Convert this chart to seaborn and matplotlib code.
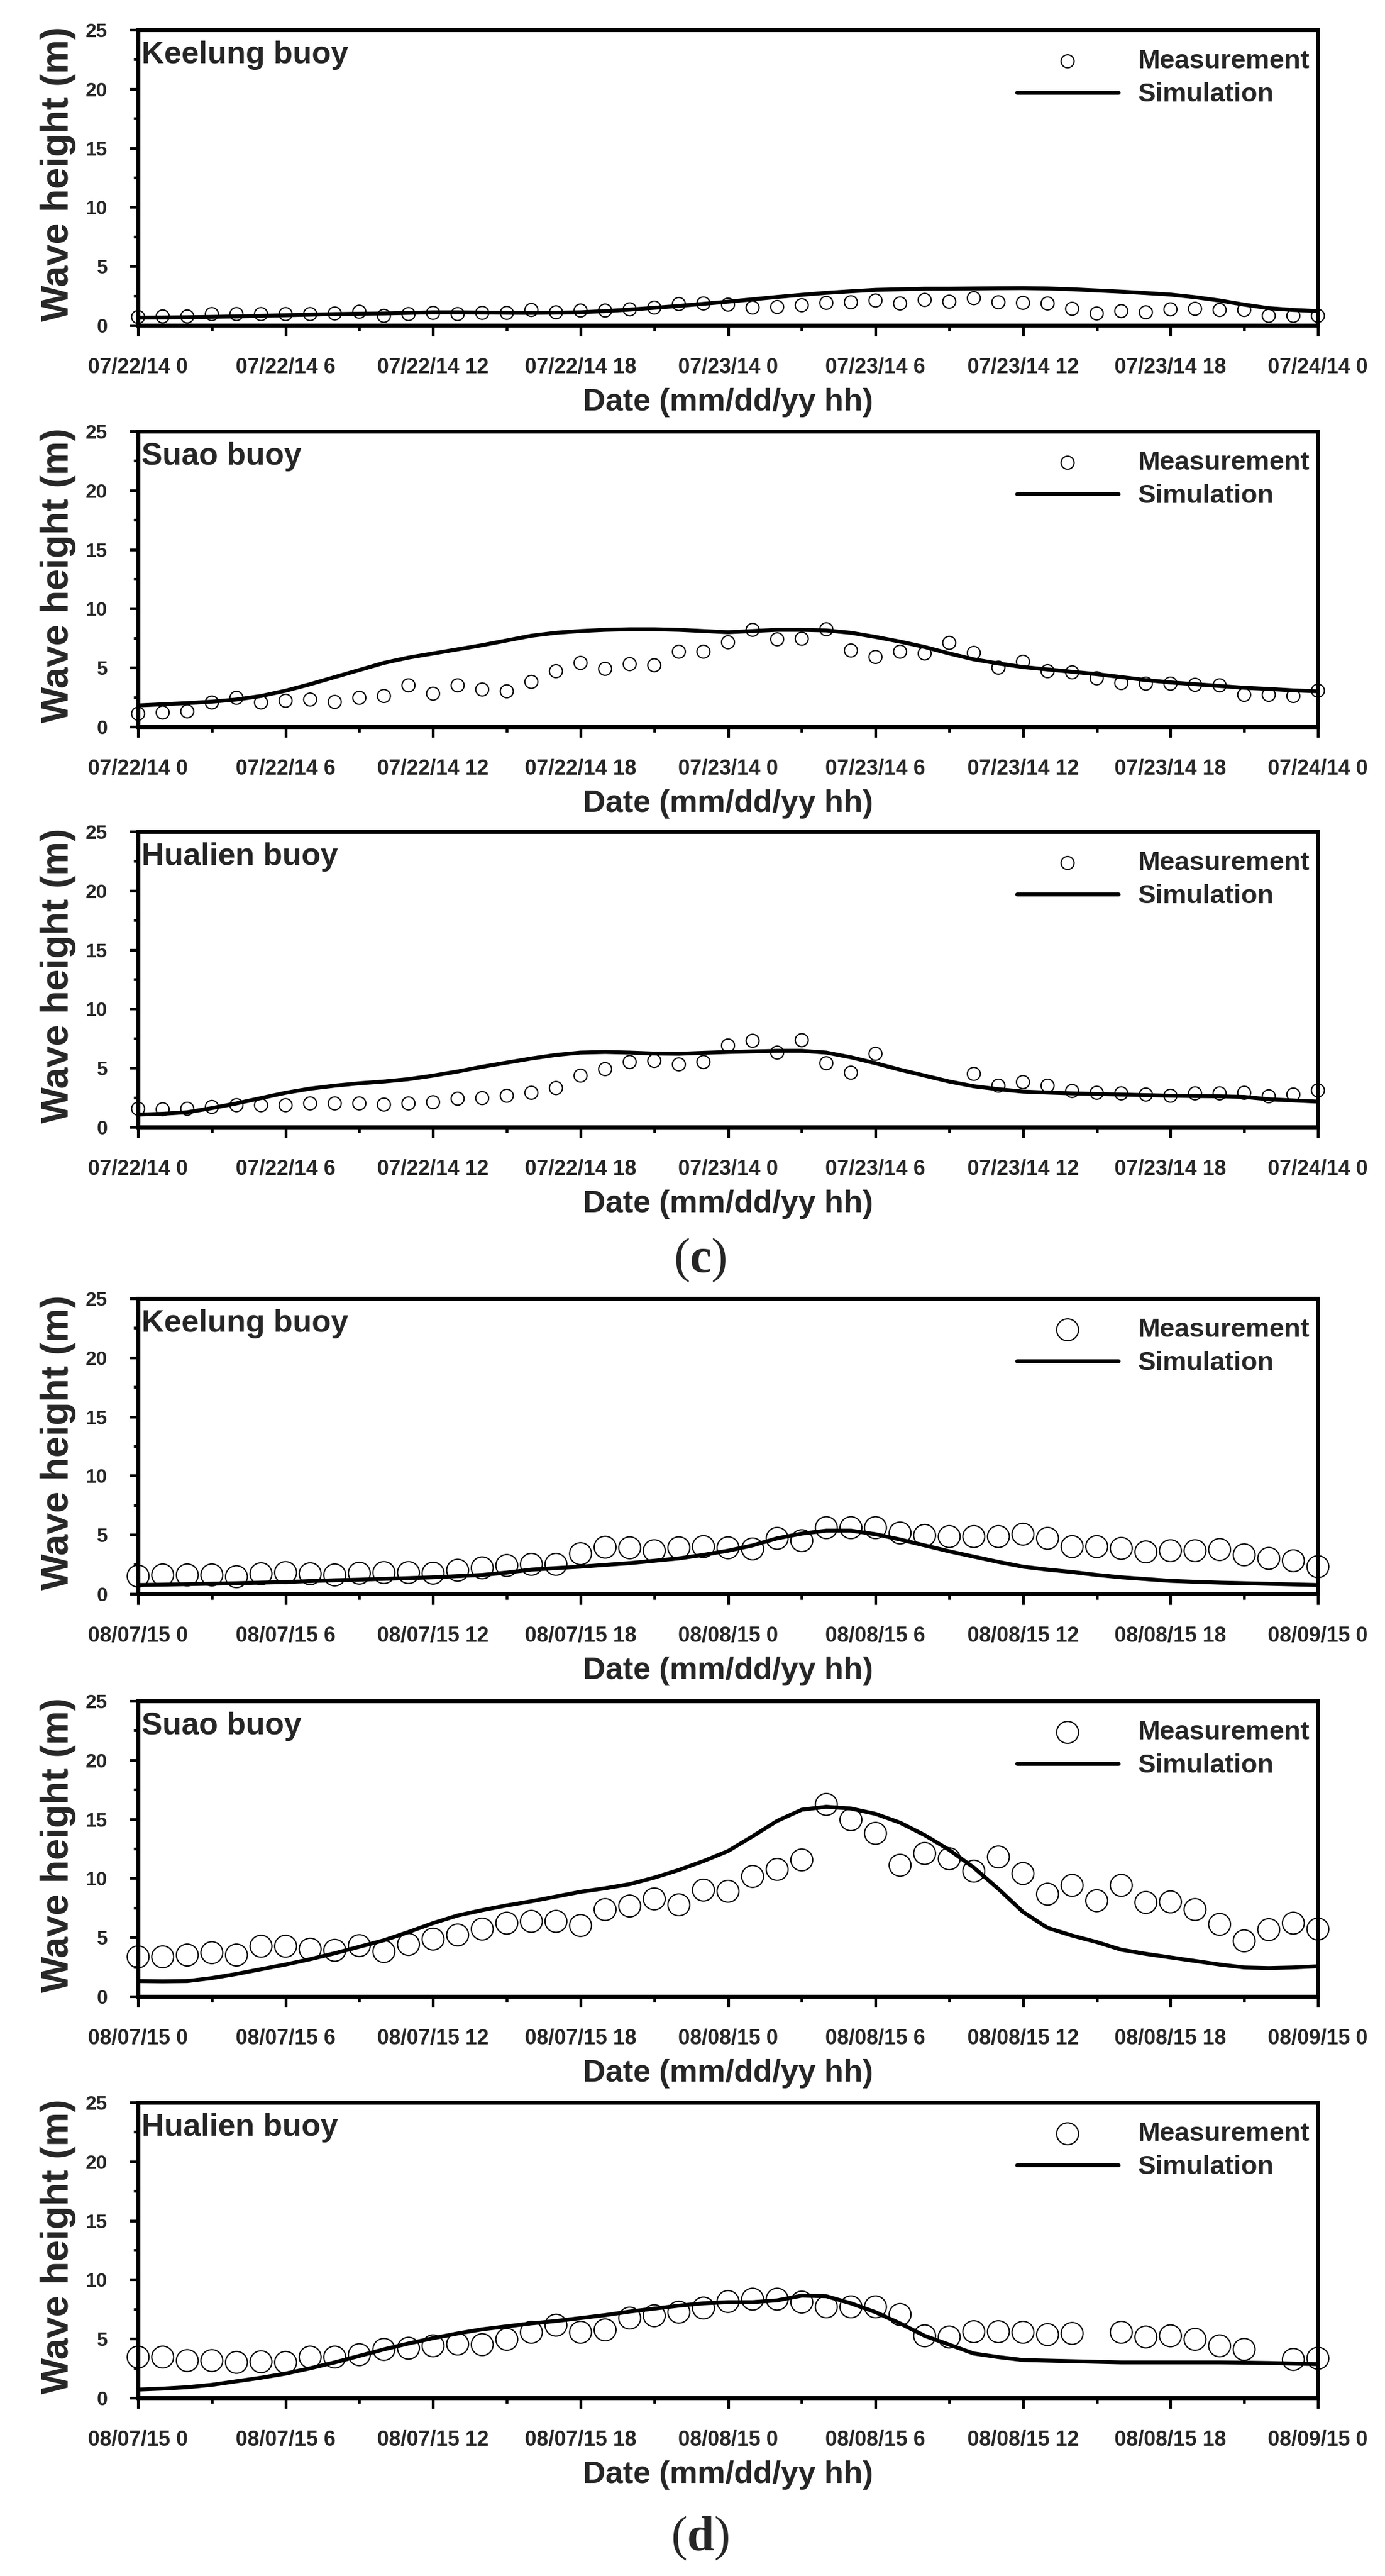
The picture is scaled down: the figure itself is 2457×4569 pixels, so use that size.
import numpy as np
import pandas as pd
import matplotlib
matplotlib.use("Agg")
import matplotlib.pyplot as plt
import seaborn as sns

sns.set_theme(style="white")
plt.rcParams["font.family"] = ["Liberation Sans", "DejaVu Sans"]
plt.rcParams["mathtext.fontset"] = "custom"
plt.rcParams["mathtext.rm"] = "Liberation Serif"
plt.rcParams["mathtext.bf"] = "Liberation Serif:bold"

# ---------------- data ----------------
hours = list(range(49))
ticks_c = ["07/22/14 0", "07/22/14 6", "07/22/14 12", "07/22/14 18", "07/23/14 0",
           "07/23/14 6", "07/23/14 12", "07/23/14 18", "07/24/14 0"]
ticks_d = ["08/07/15 0", "08/07/15 6", "08/07/15 12", "08/07/15 18", "08/08/15 0",
           "08/08/15 6", "08/08/15 12", "08/08/15 18", "08/09/15 0"]

nan = np.nan
keelung14_meas = [0.7, 0.75, 0.75, 0.95, 0.95, 0.95, 0.95, 0.95, 1.0, 1.15, 0.8, 0.95, 1.05, 0.95, 1.05,
                  1.05, 1.3, 1.1, 1.25, 1.25, 1.35, 1.5, 1.8, 1.85, 1.75, 1.5, 1.55, 1.7, 1.9, 1.95,
                  2.1, 1.85, 2.15, 2.0, 2.3, 1.95, 1.9, 1.85, 1.4, 1.0, 1.2, 1.1, 1.35, 1.4, 1.3,
                  1.3, 0.8, 0.8, 0.8]
keelung14_sim = [0.65, 0.66, 0.68, 0.71, 0.75, 0.8, 0.85, 0.9, 0.95, 0.98, 1.0, 1.05, 1.1, 1.1, 1.08,
                 1.06, 1.05, 1.07, 1.1, 1.2, 1.33, 1.48, 1.64, 1.82, 2.0, 2.2, 2.4, 2.58, 2.75, 2.88,
                 3.0, 3.05, 3.1, 3.1, 3.12, 3.14, 3.15, 3.12, 3.05, 2.95, 2.85, 2.73, 2.6, 2.38, 2.1,
                 1.75, 1.45, 1.3, 1.2]

suao14_meas = [1.1, 1.2, 1.3, 2.05, 2.45, 2.05, 2.2, 2.3, 2.1, 2.45, 2.6, 3.5, 2.8, 3.5, 3.15,
               3.0, 3.8, 4.7, 5.4, 4.9, 5.3, 5.2, 6.35, 6.35, 7.15, 8.2, 7.4, 7.45, 8.25, 6.45,
               5.9, 6.35, 6.2, 7.1, 6.25, 5.0, 5.5, 4.7, 4.6, 4.1, 3.7, 3.65, 3.65, 3.55, 3.5,
               2.7, 2.7, 2.6, 3.05]
suao14_sim = [1.8, 1.9, 2.0, 2.12, 2.3, 2.6, 3.05, 3.6, 4.2, 4.8, 5.4, 5.85, 6.2, 6.55, 6.9,
              7.3, 7.7, 7.95, 8.1, 8.2, 8.25, 8.25, 8.2, 8.1, 8.0, 8.1, 8.2, 8.2, 8.15, 7.95,
              7.6, 7.2, 6.75, 6.2, 5.7, 5.35, 5.05, 4.85, 4.65, 4.45, 4.2, 3.95, 3.75, 3.6, 3.45,
              3.3, 3.2, 3.08, 3.0]

hualien14_meas = [1.55, 1.5, 1.55, 1.7, 1.85, 1.85, 1.85, 2.0, 2.0, 2.0, 1.9, 2.0, 2.1, 2.4, 2.45,
                  2.65, 2.9, 3.3, 4.35, 4.9, 5.5, 5.6, 5.3, 5.5, 6.9, 7.3, 6.3, 7.35, 5.4, 4.6,
                  6.2, nan, nan, nan, 4.5, 3.5, 3.8, 3.5, 3.05, 2.9, 2.85, 2.75, 2.65, 2.85, 2.85,
                  2.9, 2.6, 2.75, 3.1]
hualien14_sim = [1.05, 1.12, 1.25, 1.6, 2.0, 2.45, 2.9, 3.25, 3.5, 3.7, 3.85, 4.05, 4.35, 4.7, 5.1,
                 5.45, 5.8, 6.1, 6.3, 6.35, 6.3, 6.22, 6.2, 6.28, 6.35, 6.4, 6.45, 6.45, 6.3, 5.9,
                 5.4, 4.85, 4.35, 3.85, 3.45, 3.2, 3.0, 2.92, 2.85, 2.8, 2.75, 2.7, 2.65, 2.62, 2.6,
                 2.55, 2.35, 2.25, 2.15]

keelung15_meas = [1.5, 1.6, 1.6, 1.6, 1.45, 1.7, 1.8, 1.7, 1.6, 1.75, 1.8, 1.8, 1.75, 2.0, 2.2,
                  2.4, 2.5, 2.5, 3.4, 3.95, 3.9, 3.65, 3.9, 4.0, 3.9, 3.8, 4.7, 4.5, 5.6, 5.6,
                  5.6, 5.15, 4.95, 4.85, 4.85, 4.85, 5.05, 4.7, 4.0, 4.0, 3.85, 3.55, 3.65, 3.65, 3.75,
                  3.3, 3.0, 2.8, 2.3]
keelung15_sim = [0.75, 0.78, 0.82, 0.86, 0.9, 0.95, 1.0, 1.08, 1.15, 1.2, 1.27, 1.33, 1.4, 1.5, 1.6,
                 1.8, 2.05, 2.18, 2.3, 2.45, 2.6, 2.8, 3.0, 3.3, 3.65, 4.1, 4.7, 5.1, 5.35, 5.35,
                 5.05, 4.6, 4.1, 3.6, 3.15, 2.7, 2.3, 2.05, 1.85, 1.6, 1.4, 1.25, 1.1, 1.02, 0.95,
                 0.9, 0.85, 0.8, 0.75]

suao15_meas = [3.35, 3.35, 3.5, 3.7, 3.5, 4.25, 4.25, 4.0, 3.9, 4.3, 3.8, 4.4, 4.85, 5.2, 5.7,
               6.2, 6.35, 6.35, 6.0, 7.35, 7.65, 8.25, 7.75, 9.0, 8.9, 10.15, 10.75, 11.55, 16.25, 14.95,
               13.8, 11.1, 12.1, 11.65, 10.6, 11.8, 10.4, 8.65, 9.4, 8.1, 9.4, 7.95, 8.0, 7.35, 6.1,
               4.7, 5.65, 6.2, 5.7]
suao15_sim = [1.3, 1.28, 1.3, 1.55, 1.9, 2.3, 2.7, 3.15, 3.65, 4.2, 4.75, 5.45, 6.2, 6.85, 7.3,
              7.7, 8.05, 8.45, 8.85, 9.15, 9.5, 10.05, 10.7, 11.45, 12.3, 13.55, 14.85, 15.8, 16.05, 15.9,
              15.45, 14.7, 13.65, 12.4, 10.9, 9.1, 7.15, 5.8, 5.15, 4.6, 3.95, 3.6, 3.3, 3.0, 2.7,
              2.45, 2.4, 2.45, 2.55]

hualien15_meas = [3.45, 3.45, 3.15, 3.15, 3.0, 3.05, 3.0, 3.45, 3.45, 3.65, 4.1, 4.2, 4.4, 4.55, 4.5,
                  4.95, 5.55, 6.15, 5.55, 5.75, 6.75, 6.95, 7.25, 7.6, 8.15, 8.35, 8.35, 8.1, 7.7, 7.7,
                  7.7, 7.05, 5.25, 5.15, 5.6, 5.6, 5.55, 5.35, 5.45, nan, 5.55, 5.15, 5.25, 4.95, 4.4,
                  4.1, nan, 3.25, 3.35]
hualien15_sim = [0.7, 0.78, 0.9, 1.1, 1.4, 1.7, 2.05, 2.5, 3.0, 3.55, 4.1, 4.6, 5.05, 5.45, 5.8,
                 6.05, 6.3, 6.5, 6.75, 7.0, 7.3, 7.55, 7.8, 8.0, 8.1, 8.1, 8.25, 8.65, 8.6, 8.0,
                 7.25, 6.3, 5.25, 4.5, 3.75, 3.45, 3.2, 3.15, 3.1, 3.05, 3.0, 3.0, 3.0, 3.0, 3.0,
                 2.98, 2.95, 2.9, 2.85]

stations = ["Keelung buoy", "Suao buoy", "Hualien buoy",
            "Keelung buoy", "Suao buoy", "Hualien buoy"]
meas_sets = [keelung14_meas, suao14_meas, hualien14_meas,
             keelung15_meas, suao15_meas, hualien15_meas]
sim_sets = [keelung14_sim, suao14_sim, hualien14_sim,
            keelung15_sim, suao15_sim, hualien15_sim]
tick_sets = [ticks_c, ticks_c, ticks_c, ticks_d, ticks_d, ticks_d]

# ---------------- layout (pixels) ----------------
W, H = 2457, 4569
fig = plt.figure(figsize=(W / 100, H / 100), dpi=100)
fig.patch.set_facecolor("white")

ax_left, ax_w, ax_h = 245, 2093, 524
tops = [53, 765, 1475, 2303, 3017, 3729]
marker_sizes = [275, 275, 275, 780, 780, 780]

for i in range(6):
    top = tops[i]
    ax = fig.add_axes([ax_left / W, 1 - (top + ax_h) / H, ax_w / W, ax_h / H])
    ax.set_facecolor("white")
    df = pd.DataFrame({"hour": hours, "meas": meas_sets[i], "sim": sim_sets[i]})
    sns.scatterplot(data=df, x="hour", y="meas", ax=ax, marker="o", s=marker_sizes[i],
                    facecolor="none", edgecolor="black", linewidth=1.6,
                    label="Measurement", zorder=3, clip_on=False)
    sns.lineplot(data=df, x="hour", y="sim", ax=ax, color="black", linewidth=5,
                 label="Simulation", zorder=2)
    ax.set_xlim(0, 48)
    ax.set_ylim(0, 25)

    ax.set_xticks(range(0, 49, 6))
    ax.set_xticklabels(tick_sets[i], fontsize=27, fontweight="bold")
    ax.set_xticks(range(0, 49, 3), minor=True)
    ax.set_yticks(range(0, 26, 5))
    ax.set_yticklabels([str(v) for v in range(0, 26, 5)], fontsize=25, fontweight="bold")
    ax.set_yticks(np.arange(0, 25.01, 2.5), minor=True)
    ax.tick_params(axis="x", which="major", direction="out", length=14, width=3.5, pad=27,
                   bottom=True, top=False, color="black")
    ax.tick_params(axis="x", which="minor", direction="out", length=7, width=3.5,
                   bottom=True, top=False, color="black")
    ax.tick_params(axis="y", which="major", direction="out", length=11, width=3.5, pad=28,
                   left=True, right=False, color="black")
    ax.tick_params(axis="y", which="minor", direction="out", length=6, width=3.5,
                   left=True, right=False, color="black")
    for sp in ax.spines.values():
        sp.set_visible(True)
        sp.set_linewidth(5)
        sp.set_color("black")
    ax.grid(False)

    ax.set_xlabel("Date (mm/dd/yy hh)", fontsize=40, fontweight="bold")
    ax.xaxis.set_label_coords(0.5, -0.212)
    ax.set_ylabel("Wave height (m)", fontsize=49, fontweight="bold")
    ax.yaxis.set_label_coords(-0.0526, 0.513)

    ax.text(0.003, 0.887, stations[i], transform=ax.transAxes, fontsize=40,
            fontweight="bold", ha="left", va="baseline")

    handles, labels = ax.get_legend_handles_labels()
    ax.legend(handles, labels, loc="upper right", bbox_to_anchor=(0.993, 0.935),
              frameon=False, prop={"size": 34, "weight": "bold"}, handlelength=3.8,
              handletextpad=0.74, labelspacing=0.32, borderpad=0, borderaxespad=0)

fig.text(1242 / W, 1 - 2235 / H, r"$\mathrm{(}\mathbf{c}\mathrm{)}$", fontsize=62,
         ha="center", va="center")
fig.text(1242 / W, 1 - 4502 / H, r"$\mathrm{(}\mathbf{d}\mathrm{)}$", fontsize=62,
         ha="center", va="center")

fig.savefig("out.png", dpi=100, facecolor="white")
